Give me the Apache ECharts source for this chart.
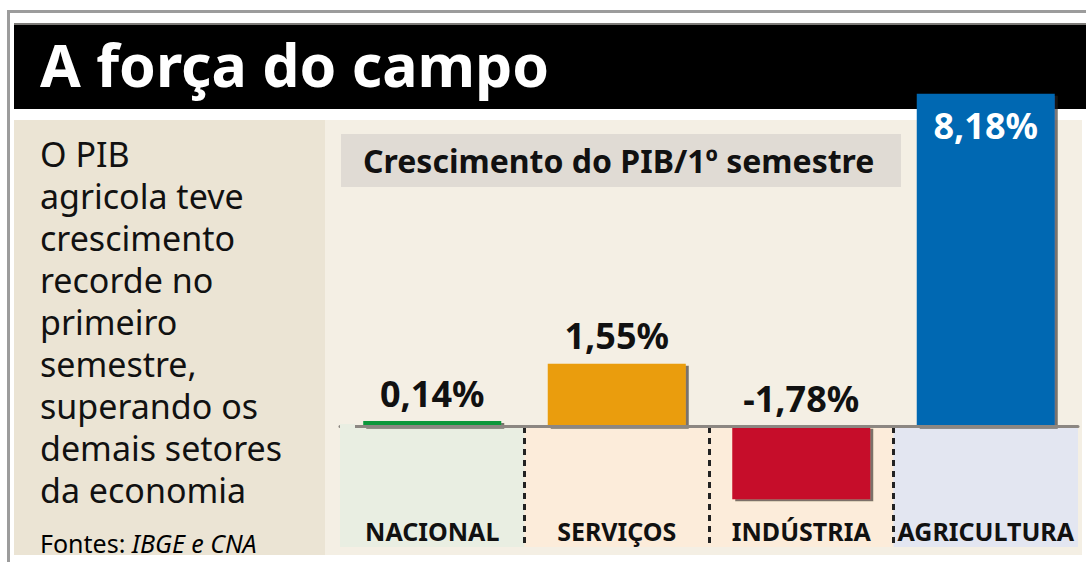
<!DOCTYPE html>
<html>
<head>
<meta charset="utf-8">
<title>A força do campo</title>
<script src="https://cdn.jsdelivr.net/npm/echarts@6/dist/echarts.min.js"></script>
<style>
  html, body { margin: 0; padding: 0; background: #fff; }
  #chart { width: 1086px; height: 562px; }
</style>
</head>
<body>
<div id="chart"></div>
<script>
// dados (PIB, 1º semestre)
var categories = ["NACIONAL", "SERVIÇOS", "INDÚSTRIA", "AGRICULTURA"];
var values = [0.14, 1.55, -1.78, 8.18];
var valueLabels = ["0,14%", "1,55%", "-1,78%", "8,18%"];
var barColors = ["#07973a", "#ea9d07", "#c60c29", "#0467b2"];
var panelColors = ["#e9eee2", "#fcecda", "#fcecda", "#e3e6f1"];
var textLines = [
  "O PIB",
  "agricola teve",
  "crescimento",
  "recorde no",
  "primeiro",
  "semestre,",
  "superando os",
  "demais setores",
  "da economia"
];

var chart = echarts.init(document.getElementById("chart"), null, { renderer: "svg" });

var barData = values.map(function(v, i) {
  var item = {
    value: v,
    itemStyle: { color: barColors[i] }
  };
  if (i === 3) {
    item.label = { position: "insideTop", distance: 14, color: "#fff" };
  }
  return item;
});

chart.setOption({
  animation: false,
  backgroundColor: "#fff",
  graphic: [
    // moldura e faixa do título
    { type: "rect", z: -5, shape: { x: 7, y: 10, width: 1079, height: 3 }, style: { fill: "#9c9c9c" } },
    { type: "rect", z: -5, shape: { x: 7, y: 10, width: 3, height: 552 }, style: { fill: "#9c9c9c" } },
    { type: "rect", z: -5, shape: { x: 14, y: 23, width: 1072, height: 86 }, style: { fill: "#000" } },
    { type: "rect", z: -5, shape: { x: 14, y: 23, width: 1072, height: 2 }, style: { fill: "#7d7b78" } },
    // fundos
    { type: "rect", z: -5, shape: { x: 14, y: 120, width: 1068, height: 435 }, style: { fill: "#f4efe4" } },
    { type: "rect", z: -5, shape: { x: 14, y: 120, width: 311, height: 435 }, style: { fill: "#ebe4d4" } },
    { type: "rect", z: -5, shape: { x: 341, y: 134, width: 560, height: 53 }, style: { fill: "#e0dbd4" } },
    // linha do zero começa um pouco depois do painel
    { type: "rect", z: 10, shape: { x: 340, y: 424, width: 15, height: 6 }, style: { fill: "#e9eee2" } },
    // textos
    {
      type: "text", z: 50, x: 40, y: 64,
      style: {
        text: "A força do campo", fill: "#fff", verticalAlign: "middle",
        font: "bold 59px 'Noto Sans', sans-serif"
      }
    },
    {
      type: "text", z: 50, x: 363, y: 160,
      style: {
        text: "Crescimento do PIB/1º semestre", fill: "#111", verticalAlign: "middle",
        font: "bold 32px 'Noto Sans', sans-serif"
      }
    },
    {
      type: "text", z: 50, x: 40, y: 133,
      style: {
        text: textLines.join("\n"), fill: "#111", verticalAlign: "top",
        font: "34px 'Noto Sans', sans-serif", lineHeight: 42
      }
    },
    {
      type: "text", z: 50, x: 40, y: 543,
      style: {
        text: "{a|Fontes: }{b|IBGE e CNA}", verticalAlign: "middle",
        rich: {
          a: { fontFamily: "Noto Sans", fontSize: 25, color: "#222" },
          b: { fontFamily: "Noto Sans", fontSize: 25, fontStyle: "italic", color: "#222" }
        }
      }
    }
  ],
  grid: [
    { left: 340, right: 8, top: 93, height: 407 },
    { left: 340, right: 8, top: 427, bottom: 15 }
  ],
  xAxis: [
    {
      gridIndex: 0,
      type: "category",
      data: categories,
      z: 3,
      axisLine: { onZero: true, lineStyle: { color: "#8c8782", width: 3 } },
      axisTick: { show: false },
      axisLabel: { show: false },
      splitLine: { show: false }
    },
    {
      gridIndex: 1,
      type: "category",
      data: categories,
      axisLine: { show: false },
      axisTick: { show: false },
      axisLabel: {
        inside: true,
        interval: 0,
        margin: 4,
        color: "#111",
        fontFamily: "Noto Sans",
        fontWeight: "bold",
        fontSize: 25
      },
      splitLine: {
        show: true,
        interval: 0,
        showMinLine: false,
        showMaxLine: false,
        lineStyle: { color: "#222", width: 3, type: [6, 5] }
      },
      splitArea: {
        show: true,
        interval: 0,
        areaStyle: { color: panelColors }
      }
    }
  ],
  yAxis: [
    { gridIndex: 0, type: "value", min: -1.8, max: 8.2, show: false },
    { gridIndex: 1, type: "value", min: 0, max: 1, show: false }
  ],
  series: [
    {
      type: "bar",
      xAxisIndex: 0,
      yAxisIndex: 0,
      barWidth: 138,
      data: barData,
      itemStyle: {
        shadowColor: "rgba(40, 35, 30, 0.6)",
        shadowOffsetX: 3,
        shadowOffsetY: 2,
        shadowBlur: 0
      },
      label: {
        show: true,
        position: "top",
        distance: 10,
        color: "#111",
        fontFamily: "Noto Sans",
        fontWeight: "bold",
        fontSize: 36,
        formatter: function(p) {
          return valueLabels[p.dataIndex];
        }
      }
    }
  ]
});
</script>
</body>
</html>
